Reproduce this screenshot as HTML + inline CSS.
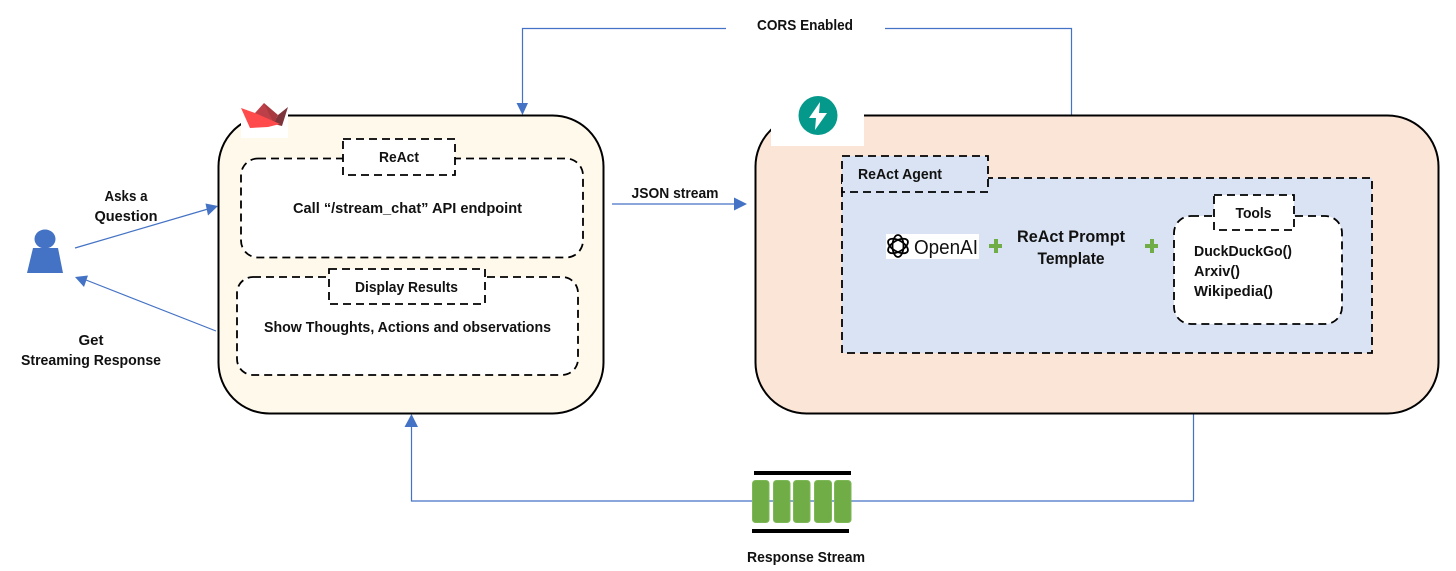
<!DOCTYPE html>
<html><head><meta charset="utf-8"><style>
html,body{margin:0;padding:0;background:#fff}
svg{display:block}
text{font-family:"Liberation Sans",sans-serif;font-weight:bold;font-size:15px;fill:#111}
.d{stroke:#000;stroke-width:1.800;stroke-dasharray:8 5;fill:#fff}
.l{stroke:#4472C4;stroke-width:1.200;fill:none}
.a{fill:#4472C4}
.g{fill:#70AD47;stroke:#7DB856;stroke-width:1}
</style></head><body>
<svg width="1456" height="571" viewBox="0 0 1456 571" xmlns="http://www.w3.org/2000/svg">
<rect width="1456" height="571" fill="#fff"/>

<!-- connectors -->
<path class="l" d="M726 28.500H522.500V105"/>
<path class="l" d="M885 28.500H1071.500V115"/>
<polygon class="a" points="516.500,103 528,103 522.500,115"/>
<path class="l" d="M612 204H737"/>
<polygon class="a" points="734,197.500 747,204 734,210.500"/>
<path class="l" d="M1193.500 413V501H411.500V424"/>
<polygon class="a" points="404.500,427 418,427 411.500,414"/>
<path class="l" d="M75 248L208 209"/>
<polygon class="a" points="205.500,203.500 218,206 208,215.500"/>
<path class="l" d="M216 331L86 280"/>
<polygon class="a" points="75,277 88,275.500 84,287"/>

<!-- person -->
<ellipse cx="45" cy="239" rx="10.500" ry="9.500" class="a"/>
<polygon class="a" points="33,248 58,248 63,273 27,273"/>
<text x="126" y="201" text-anchor="middle" textLength="43" lengthAdjust="spacingAndGlyphs">Asks a</text>
<text x="126" y="221" text-anchor="middle" textLength="63" lengthAdjust="spacingAndGlyphs">Question</text>
<text x="91" y="345" text-anchor="middle" textLength="25" lengthAdjust="spacingAndGlyphs">Get</text>
<text x="91" y="365" text-anchor="middle" textLength="140" lengthAdjust="spacingAndGlyphs">Streaming Response</text>

<!-- left panel -->
<rect x="218.500" y="115.500" width="385" height="298" rx="51" fill="#FFF9EC" stroke="#000" stroke-width="2"/>
<rect x="241" y="104" width="47" height="34" fill="#fff"/>
<polygon points="255,113 264,103 280,122 262,122" fill="#BD3F47"/>
<polygon points="278,115 288,107 282,126 274,124" fill="#7D353B"/>
<polygon points="264,103 278,115 274,124" fill="#A8393F"/>
<polygon points="241,108 255,113 280,124 268,127 250,128" fill="#FF4B4B"/>
<rect x="241" y="158.500" width="342" height="99" rx="17" class="d"/>
<rect x="343" y="139" width="112" height="36" class="d"/>
<text x="399" y="162" text-anchor="middle" textLength="40" lengthAdjust="spacingAndGlyphs">ReAct</text>
<text x="407.500" y="213" text-anchor="middle" textLength="229" lengthAdjust="spacingAndGlyphs">Call “/stream_chat” API endpoint</text>
<rect x="237" y="277" width="341" height="98" rx="16" class="d"/>
<rect x="329" y="269" width="156" height="35" class="d"/>
<text x="406.500" y="292" text-anchor="middle" textLength="103" lengthAdjust="spacingAndGlyphs">Display Results</text>
<text x="407.500" y="332" text-anchor="middle" textLength="287" lengthAdjust="spacingAndGlyphs">Show Thoughts, Actions and observations</text>

<text x="675" y="198" text-anchor="middle" textLength="87" lengthAdjust="spacingAndGlyphs">JSON stream</text>
<text x="805" y="30" text-anchor="middle" textLength="96" lengthAdjust="spacingAndGlyphs">CORS Enabled</text>

<!-- right panel -->
<rect x="755.500" y="115.500" width="683" height="298" rx="51" fill="#FBE5D6" stroke="#000" stroke-width="2"/>
<rect x="771" y="100" width="93" height="46" fill="#fff"/>
<circle cx="818" cy="115.500" r="19.500" fill="#05998B"/>
<polygon points="820,102 809,118 816,118 815,130 827,113 819,113" fill="#fff"/>

<!-- agent -->
<rect x="842" y="178" width="530" height="175" class="d" style="fill:#DAE3F3"/>
<rect x="842" y="156" width="146" height="36" class="d" style="fill:#DAE3F3"/>
<text x="858" y="179" textLength="84" lengthAdjust="spacingAndGlyphs">ReAct Agent</text>

<rect x="886" y="234" width="93" height="25" fill="#fff"/>
<g fill="none" stroke="#000" stroke-width="1.800">
<ellipse cx="898" cy="246" rx="11" ry="5.500" transform="rotate(30 898 246)"/>
<ellipse cx="898" cy="246" rx="11" ry="5.500" transform="rotate(90 898 246)"/>
<ellipse cx="898" cy="246" rx="11" ry="5.500" transform="rotate(150 898 246)"/>
</g>
<text x="914" y="254" style="font-weight:normal;font-size:20px" textLength="64" lengthAdjust="spacingAndGlyphs">OpenAI</text>
<path d="M996 239V253M989 246H1002" stroke="#70AD47" stroke-width="4" fill="none"/>
<text x="1071" y="242" text-anchor="middle" style="font-size:17px" textLength="108" lengthAdjust="spacingAndGlyphs">ReAct Prompt</text>
<text x="1071" y="264" text-anchor="middle" style="font-size:17px" textLength="67" lengthAdjust="spacingAndGlyphs">Template</text>
<path d="M1152 239V253M1145 246H1158" stroke="#70AD47" stroke-width="4" fill="none"/>

<rect x="1174" y="216" width="168" height="108" rx="17" class="d"/>
<rect x="1214" y="195" width="80" height="35" class="d"/>
<text x="1253.500" y="218" text-anchor="middle" textLength="36" lengthAdjust="spacingAndGlyphs">Tools</text>
<text x="1194" y="256" textLength="98" lengthAdjust="spacingAndGlyphs">DuckDuckGo()</text>
<text x="1194" y="276" textLength="46" lengthAdjust="spacingAndGlyphs">Arxiv()</text>
<text x="1194" y="296" textLength="79" lengthAdjust="spacingAndGlyphs">Wikipedia()</text>

<!-- stream -->
<rect x="754" y="471" width="97" height="4" fill="#000"/>
<rect x="752" y="529" width="97" height="4" fill="#000"/>
<rect class="g" x="752.500" y="480.500" width="16.500" height="42" rx="3"/>
<rect class="g" x="773.500" y="480.500" width="16.500" height="42" rx="3"/>
<rect class="g" x="793.500" y="480.500" width="16.500" height="42" rx="3"/>
<rect class="g" x="814.500" y="480.500" width="17" height="42" rx="3"/>
<rect class="g" x="834.500" y="480.500" width="16.500" height="42" rx="3"/>
<text x="806" y="562" text-anchor="middle" textLength="118" lengthAdjust="spacingAndGlyphs">Response Stream</text>
</svg>
</body></html>
